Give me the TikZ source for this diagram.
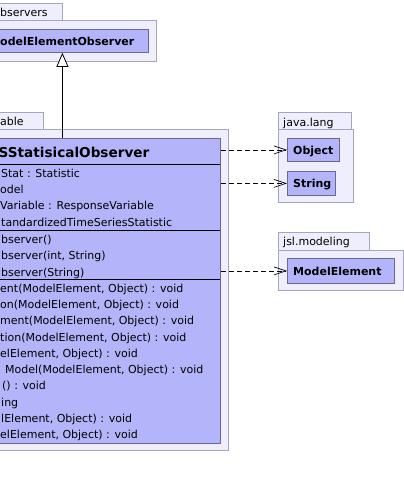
\documentclass[tikz,border=0pt]{standalone}
\usepackage{fontspec}
\setmainfont{DejaVu Sans}
\usetikzlibrary{arrows.meta}

\definecolor{pkgfill}{RGB}{238,238,252}
\definecolor{pkgline}{RGB}{165,165,190}
\definecolor{clsfill}{RGB}{180,180,250}
\definecolor{clsline}{RGB}{105,105,150}

\tikzset{
  pkg/.style={draw=pkgline, fill=pkgfill, line width=0.8pt, anchor=north west, inner sep=0pt},
  cls/.style={draw=clsline, fill=clsfill, line width=0.8pt, anchor=north west, inner sep=0pt},
  txt/.style={anchor=base west, inner sep=0pt, font=\fontsize{11}{13}\selectfont},
  bname/.style={anchor=base west, inner sep=0pt, font=\fontsize{11}{13}\selectfont\bfseries},
  dep/.style={black, line width=0.7pt, dash pattern=on 5pt off 3pt, -{Straight Barb[length=12pt, width=8pt, line width=0.7pt]}},
  gen/.style={black, line width=0.8pt, -{Triangle[open, fill=white, length=14pt, width=12pt, line width=0.8pt]}}
}

\begin{document}
\begin{tikzpicture}[x=1pt, y=-1pt]
\useasboundingbox (0,0) rectangle (404,488);

% observers package
\node[pkg, minimum width=162pt, minimum height=17pt] (obsTab) at (-100,3) {};
\node[pkg, minimum width=256pt, minimum height=41pt] (obsPkg) at (-100,20) {};
\path (0,16) node[txt] (obsTabTxt) {bservers};
\node[cls, minimum width=172pt, minimum height=23pt] (obsCls) at (-24,29) {};
\path (0,45.5) node[bname] (obsClsTxt) {odelElementObserver};

% main package
\node[pkg, minimum width=143pt, minimum height=17pt] (mainTab) at (-100,112) {};
\node[pkg, minimum width=328pt, minimum height=321pt] (mainPkg) at (-100,129) {};
\path (0,125) node[txt] (mainTabTxt) {able};
\node[cls, minimum width=316pt, minimum height=305pt] (mainCls) at (-96,138) {};
\path (-1.5,157) node[bname, font=\fontsize{13.6}{16}\selectfont\bfseries] (mainClsTxt) {SStatisicalObserver};
\draw[black, line width=0.8pt] (-96,164) -- (220,164);
\draw[black, line width=0.8pt] (-96,230) -- (220,230);
\draw[black, line width=0.8pt] (-96,279) -- (220,279);

% attributes
\path (1,177) node[txt] (a1) {Stat : Statistic};
\path (0,193.3) node[txt] (a2) {odel};
\path (0,209.6) node[txt] (a3) {Variable : ResponseVariable};
\path (1,226) node[txt] (a4) {tandardizedTimeSeriesStatistic};

% constructors
\path (1,243.5) node[txt] (c1) {bserver()};
\path (1,259.8) node[txt] (c2) {bserver(int, String)};
\path (1,276) node[txt] (c3) {bserver(String)};

% methods
\path (0,292) node[txt] (m1) {ent(ModelElement, Object) : void};
\path (0,308.3) node[txt] (m2) {on(ModelElement, Object) : void};
\path (0,324.6) node[txt] (m3) {ment(ModelElement, Object) : void};
\path (0,341) node[txt] (m4) {tion(ModelElement, Object) : void};
\path (0,357.2) node[txt] (m5) {elElement, Object) : void};
\path (5,373.5) node[txt] (m6) {Model(ModelElement, Object) : void};
\path (2,389.8) node[txt] (m7) {() : void};
\path (1,406) node[txt] (m8) {ing};
\path (1,422.4) node[txt] (m9) {lElement, Object) : void};
\path (0,438.7) node[txt] (m10) {elElement, Object) : void};

% java.lang package
\node[pkg, minimum width=73pt, minimum height=17pt] (langTab) at (278,112) {};
\node[pkg, minimum width=75pt, minimum height=73pt] (langPkg) at (278,129) {};
\path (283,126) node[txt] (langTabTxt) {java.lang};
\node[cls, minimum width=52pt, minimum height=23pt] (obj) at (287,138) {};
\path (293,154.5) node[bname] (objTxt) {Object};
\node[cls, minimum width=48pt, minimum height=24pt] (str) at (287,171) {};
\path (293,187.5) node[bname] (strTxt) {String};

% jsl.modeling package
\node[pkg, minimum width=91pt, minimum height=18pt] (mdlTab) at (278,232) {};
\node[pkg, minimum width=125pt, minimum height=40pt] (mdlPkg) at (278,250) {};
\path (283,245) node[txt] (mdlTabTxt) {jsl.modeling};
\node[cls, minimum width=107pt, minimum height=25pt] (mdlElem) at (287,258) {};
\path (293,275) node[bname] (mdlElemTxt) {ModelElement};

% connectors
\draw[gen] (mainCls.north) -- (obsCls.south);
\draw[dep] (mainCls.east |- obj.west) -- (obj.west);
\draw[dep] (mainCls.east |- str.west) -- (str.west);
\draw[dep] (mainCls.east |- mdlElem.west) -- (mdlElem.west);
\end{tikzpicture}
\end{document}
